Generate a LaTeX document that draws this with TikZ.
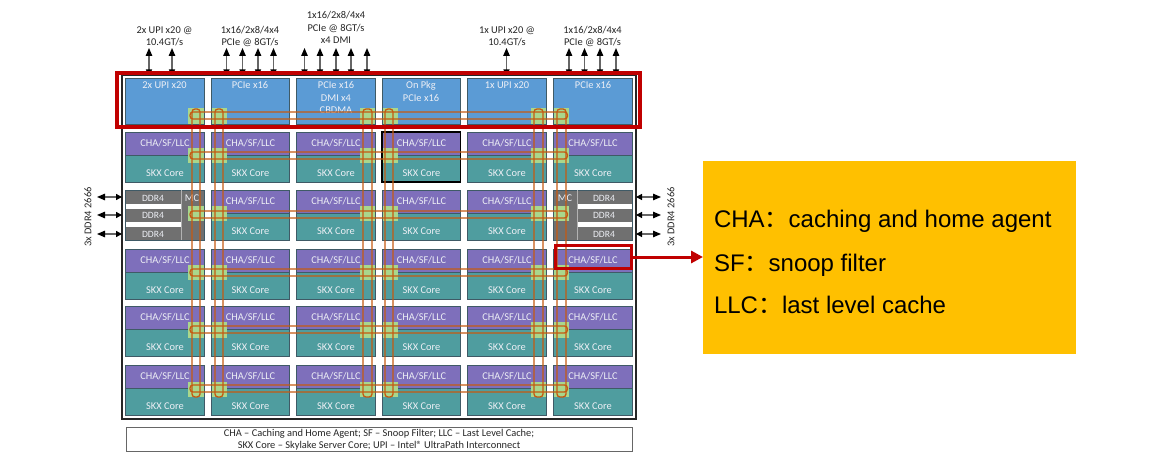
\documentclass[tikz,border=0pt]{standalone}
\usepackage{fontspec}
\setmainfont{Carlito}
\newfontfamily\arialf{Liberation Sans}
\newfontfamily\cjkf{Noto Sans CJK SC}
\usetikzlibrary{arrows.meta}
\definecolor{tblue}{HTML}{5B9BD5}
\definecolor{tpurple}{HTML}{7E6FBB}
\definecolor{tteal}{HTML}{4F9D9F}
\definecolor{tgreen}{HTML}{A9D78C}
\definecolor{tring}{HTML}{C55A11}
\definecolor{tgray}{HTML}{707070}
\definecolor{tedge}{HTML}{3F5A66}
\definecolor{tred}{HTML}{C00000}
\definecolor{tgold}{HTML}{FFC000}
\definecolor{tlabel}{HTML}{EDEFF5}
\tikzset{
  x=1pt,y=-1pt,
  every node/.style={inner sep=0pt,outer sep=0pt},
  fillbox/.style={anchor=north west,draw=tedge,line width=0.7pt,minimum width=78.5pt},
  bluetile/.style={fillbox,fill=tblue,minimum height=46.5pt},
  purpletile/.style={fillbox,fill=tpurple,minimum height=23pt},
  tealtile/.style={fillbox,fill=tteal,minimum height=27pt},
  mctile/.style={fillbox,fill=tgray,minimum height=50pt},
  greensq/.style={anchor=north west,fill=tgreen,minimum width=15.5pt,minimum height=15.5pt},
  tiletext/.style={font=\fontsize{10.4}{12.5}\selectfont,text=tlabel,align=center},
  darktext/.style={font=\fontsize{10.4}{12.7}\selectfont,text=black!85,align=center},
  ringline/.style={draw=tring,line width=1.3pt,rounded corners=3pt},
  wirearrow/.style={draw=black!60,line width=1.3pt,{Triangle[length=6pt,width=6pt,black]}-{Triangle[length=8pt,width=6.5pt,black]}},
  redframe/.style={draw=tred,line width=4pt},
  infotext/.style={anchor=base west,font=\arialf\fontsize{24}{28}\selectfont,text=black}
}
\begin{document}
\begin{tikzpicture}
\useasboundingbox (0,0) rectangle (1150,470);
\fill[white] (0,0) rectangle (1150,470);
% outer chip frame and legend
\node[anchor=north west,draw=black!85,line width=1.8pt,minimum width=514pt,minimum height=344pt] (chip) at (122,75) {};
\node[anchor=north west,draw=black!60,line width=0.8pt,minimum width=506pt,minimum height=24pt] (legendbox) at (126,427) {};
\node[darktext,font=\fontsize{10.4}{12}\selectfont] (legend) at (379,439.5) {CHA -- Caching and Home Agent; SF -- Snoop Filter; LLC -- Last Level Cache;\\SKX Core -- Skylake Server Core; UPI -- Intel® UltraPath Interconnect};
% top row
\node[bluetile] (t1) at (125.5,78) {};
\node[bluetile] (t2) at (211,78) {};
\node[bluetile] (t3) at (296.5,78) {};
\node[bluetile] (t4) at (382,78) {};
\node[bluetile] (t5) at (467.5,78) {};
\node[bluetile] (t6) at (553.5,78) {};
% core rows
\foreach \c/\x in {1/125.5,2/211,3/296.5,4/382,5/467.5,6/553.5}{
  \foreach \r/\y in {1/132,2/190,3/249,4/306,5/365}{
    \pgfmathtruncatemacro\ismc{(\r==2)&&(\c==1||\c==6)}
    \ifnum\ismc=0
      \node[purpletile] (p\c-\r) at (\x,\y) {};
      \node[tealtile] (k\c-\r) at (\x,\y+23) {};
      \node[tiletext] (pl\c-\r) at (\x+39.5,\y+11) {CHA/SF/LLC};
      \node[tiletext] (kl\c-\r) at (\x+39.5,\y+41) {SKX Core};
    \fi
  }
}
% highlighted tile
\node[anchor=north west,draw=black,line width=1.2pt,minimum width=78.5pt,minimum height=50pt] (hl) at (382,132) {};
% memory controllers
\node[mctile] (mcl) at (125.5,190) {};
\node[mctile] (mcr) at (553.5,190) {};
\fill[white] (125.5,204) rectangle (180.5,209);
\fill[white] (125.5,222) rectangle (180.5,227);
\fill[white] (577.5,204) rectangle (632,209);
\fill[white] (577.5,222) rectangle (632,227);
\draw[black!30,line width=0.7pt] (181,190) -- (181,240);
\draw[black!30,line width=0.7pt] (577,190) -- (577,240);
\node[tiletext,font=\fontsize{9.6}{11}\selectfont] (ddl1) at (153,198) {DDR4};
\node[tiletext,font=\fontsize{9.6}{11}\selectfont] (ddl2) at (153,215.5) {DDR4};
\node[tiletext,font=\fontsize{9.6}{11}\selectfont] (ddl3) at (153,234) {DDR4};
\node[tiletext,font=\fontsize{9.6}{11}\selectfont] (ddr1) at (604,198) {DDR4};
\node[tiletext,font=\fontsize{9.6}{11}\selectfont] (ddr2) at (604,215.5) {DDR4};
\node[tiletext,font=\fontsize{9.6}{11}\selectfont] (ddr3) at (604,234) {DDR4};
\node[tiletext] (mcltxt) at (192,198.5) {MC};
\node[tiletext] (mcrtxt) at (565,198.5) {MC};
% top tile labels
\node[tiletext,anchor=north] (tl1) at (164.5,81.5) {2x UPI x20};
\node[tiletext,anchor=north] (tl2) at (250,81.5) {PCIe x16};
\node[tiletext,anchor=north] (tl3) at (336,81.5) {PCIe x16\\DMI x4\\CBDMA};
\node[tiletext,anchor=north] (tl4) at (421,81.5) {On Pkg\\PCIe x16};
\node[tiletext,anchor=north] (tl5) at (507,81.5) {1x UPI x20};
\node[tiletext,anchor=north] (tl6) at (593,81.5) {PCIe x16};
% mesh stops
\foreach \c/\x in {1/188,2/211.5,3/359.5,4/382.5,5/530.5,6/553.5}{
  \foreach \r/\y in {0/108.5,1/148,2/206,3/264.5,4/322,5/381.5}{
    \node[greensq] (g\c-\r) at (\x,\y) {};
  }
}
% horizontal rings
\foreach \r/\a/\b in {0/112/119,1/152/159,2/211/218,3/269/276,4/326/333,5/385/392}{
  \coordinate (hl\r) at (190,\a);
  \coordinate (hr\r) at (567.5,\b);
  \draw[ringline] (hl\r) rectangle (hr\r);
}
% vertical rings
\foreach \c/\a/\b in {1/192/200,2/215/223,3/363/372,4/385/393,5/534/543,6/557/566}{
  \coordinate (vt\c) at (\a,109);
  \coordinate (vb\c) at (\b,397);
  \draw[ringline] (vt\c) rectangle (vb\c);
}
% top arrows
\foreach \i/\x in {1/149,2/172,3/226.5,4/242.5,5/258,6/273.5,7/304.5,8/320,9/336,10/351,11/367,12/506.5,13/569,14/584.5,15/600,16/616}{
  \coordinate (up\i) at (\x,48);
  \coordinate (dn\i) at (\x,75.5);
  \draw[wirearrow] (dn\i) -- (up\i);
}
% top labels
\node[darktext] (a1) at (164.5,36.5) {2x UPI x20 @\\10.4GT/s};
\node[darktext] (a2) at (250,36.5) {1x16/2x8/4x4\\PCIe @ 8GT/s};
\node[darktext] (a3) at (336,27.5) {1x16/2x8/4x4\\PCIe @ 8GT/s\\x4 DMI};
\node[darktext] (a4) at (507,36.5) {1x UPI x20 @\\10.4GT/s};
\node[darktext] (a5) at (592.5,36.5) {1x16/2x8/4x4\\PCIe @ 8GT/s};
% DDR arrows
\foreach \i/\y in {1/197,2/215,3/234}{
  \coordinate (lo\i) at (97,\y);
  \coordinate (li\i) at (122,\y);
  \coordinate (ri\i) at (636,\y);
  \coordinate (ro\i) at (661,\y);
  \draw[wirearrow] (li\i) -- (lo\i);
  \draw[wirearrow] (ri\i) -- (ro\i);
}
\node[darktext,rotate=90] (dl) at (88,217) {3x DDR4 2666};
\node[darktext,rotate=90] (dr) at (671,217) {3x DDR4 2666};
% red frames
\node[anchor=north west,redframe,minimum width=523pt,minimum height=54pt] (topframe) at (117,73) {};
\node[anchor=north west,draw=tred,line width=3pt,minimum width=76pt,minimum height=23pt] (chaframe) at (555.5,245.5) {};
% info box
\node[anchor=north west,fill=tgold,minimum width=373pt,minimum height=193pt] (info) at (703,161) {};
\draw[draw=tred,line width=3pt,-{Triangle[length=12pt,width=12pt,fill=tred]}] (chaframe.east) -- (info.west |- chaframe.east);
\node[infotext] (i1) at (714,227.5) {CHA{\cjkf：}caching and home agent};
\node[infotext] (i2) at (714,271) {SF{\cjkf：}snoop filter};
\node[infotext] (i3) at (714,313.5) {LLC{\cjkf：}last level cache};
\end{tikzpicture}
\end{document}
